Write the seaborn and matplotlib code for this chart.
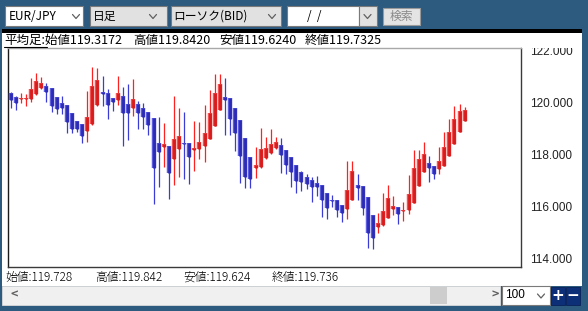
import numpy as np
import pandas as pd
import matplotlib
matplotlib.use("Agg")
import matplotlib.pyplot as plt
from matplotlib.patches import Rectangle
from matplotlib.lines import Line2D
from matplotlib.ticker import FormatStrFormatter
import seaborn as sns

# ---------------- data (Heikin-Ashi candles, EUR/JPY daily) ----------------
opens = [120.37, 120.24, 120.14, 120.14, 120.15, 120.33, 120.59, 120.67, 120.57, 120.24,
         120.01, 119.92, 119.63, 119.32, 119.18, 118.93, 119.19, 119.92, 120.42, 120.40,
         120.18, 120.12, 120.27, 119.96, 119.80, 119.95, 119.80, 119.64, 119.41, 118.45,
         118.30, 118.35, 117.83, 118.23, 118.47, 118.45, 118.18, 118.22, 118.35, 118.60,
         119.12, 119.73, 120.22, 120.18, 119.80, 119.35, 118.64, 117.91, 117.49, 117.55,
         117.87, 118.07, 118.26, 118.38, 118.19, 117.91, 117.61, 117.33, 117.14, 117.04,
         116.91, 116.85, 116.55, 116.27, 116.27, 116.08, 115.91, 116.27, 116.85, 116.81,
         116.40, 115.69, 115.24, 115.31, 115.59, 115.94, 115.99, 115.86, 115.88, 116.17,
         116.82, 117.33, 117.68, 117.59, 117.45, 117.59, 117.96, 118.42, 118.90, 119.32]
highs = [120.43, 120.27, 120.40, 120.35, 120.95, 121.14, 120.99, 120.76, 120.57, 120.24,
         120.27, 119.92, 119.63, 119.32, 119.18, 120.46, 121.37, 121.33, 121.05, 120.53,
         120.20, 121.04, 120.63, 120.73, 120.92, 120.08, 119.99, 119.64, 119.41, 119.47,
         119.22, 118.35, 120.28, 119.82, 119.67, 118.45, 119.31, 119.28, 119.91, 120.50,
         121.12, 121.12, 120.95, 120.18, 119.80, 119.35, 118.64, 117.91, 118.30, 119.03,
         118.68, 118.99, 118.70, 118.64, 118.19, 117.91, 117.61, 117.40, 117.27, 117.14,
         117.20, 116.85, 116.55, 116.46, 116.27, 116.08, 117.77, 117.77, 117.27, 116.81,
         116.40, 115.69, 115.76, 116.53, 116.85, 116.42, 115.99, 116.20, 117.23, 118.19,
         118.19, 118.51, 117.96, 117.59, 118.32, 118.90, 119.37, 119.88, 119.96, 119.84]
lows = [119.82, 119.73, 119.99, 119.90, 120.03, 120.31, 120.53, 120.05, 119.64, 119.58,
        119.58, 118.83, 118.83, 118.87, 118.45, 118.51, 119.15, 119.90, 119.88, 119.37,
        119.70, 119.92, 118.36, 118.58, 119.51, 118.99, 118.99, 118.77, 116.10, 116.78,
        117.55, 116.30, 116.85, 117.17, 117.07, 116.88, 117.40, 117.83, 117.72, 118.60,
        119.12, 119.73, 118.77, 118.77, 118.17, 116.93, 116.72, 116.72, 117.10, 117.49,
        117.83, 118.04, 118.23, 117.30, 117.27, 116.78, 116.55, 116.63, 116.68, 116.20,
        116.42, 115.63, 115.54, 116.01, 115.60, 115.43, 115.54, 116.27, 116.27, 115.69,
        114.41, 114.38, 115.01, 115.27, 115.57, 115.69, 115.33, 115.47, 115.73, 116.17,
        116.82, 117.33, 116.97, 117.07, 117.27, 117.59, 117.96, 118.42, 118.90, 119.32]
closes = [120.12, 120.01, 120.18, 120.18, 120.53, 120.85, 120.76, 120.41, 119.90, 119.76,
          119.82, 119.28, 118.99, 119.00, 118.74, 119.47, 120.65, 120.88, 120.35, 119.92,
          120.03, 120.40, 119.63, 119.63, 120.14, 119.60, 119.47, 119.15, 117.51, 118.10,
          118.41, 117.32, 118.60, 118.73, 118.41, 117.91, 118.26, 118.49, 118.83, 119.63,
          120.37, 120.72, 120.12, 119.37, 118.86, 117.96, 117.17, 117.07, 117.62, 118.22,
          118.26, 118.42, 118.51, 118.00, 117.61, 117.33, 117.01, 116.97, 116.88, 116.78,
          116.78, 116.27, 115.95, 116.24, 115.88, 115.76, 116.65, 117.38, 116.74, 115.95,
          114.99, 114.80, 115.37, 115.86, 116.33, 116.04, 115.73, 115.88, 116.49, 117.49,
          117.85, 118.03, 117.51, 117.27, 117.77, 118.32, 118.90, 119.37, 119.69, 119.73]
price_ticks = [114, 116, 118, 120, 122]

header_items = ["平均足:始値119.3172", "高値119.8420", "安値119.6240", "終値119.7325"]
footer_items = ["始値:119.728", "高値:119.842", "安値:119.624", "終値:119.736"]
toolbar_items = ["EUR/JPY", "日足", "ローソク(BID)", "/  /", "検索"]
bars_shown = "100"

# ---------------- long-format tables ----------------
n = len(opens)
idx = np.arange(n)
direction = ["up" if c >= o else "down" for o, c in zip(opens, closes)]
wick_df = pd.DataFrame({
    "idx": np.concatenate([idx, idx]),
    "price": np.concatenate([lows, highs]),
    "dir": direction + direction,
})
body_df = pd.DataFrame({
    "idx": np.concatenate([idx, idx]),
    "price": np.concatenate([opens, closes]),
    "dir": direction + direction,
})

# ---------------- figure ----------------
W, H = 588, 311
sns.set_style("white")
plt.rcParams["font.family"] = ["Noto Sans CJK JP", "DejaVu Sans"]
fig = plt.figure(figsize=(W / 100, H / 100), dpi=100)
fig.patch.set_facecolor("#2d5a7f")


def fx(x):
    return x / W


def fy(y):
    return 1 - y / H


def rect(x0, y0, x1, y1, fc, ec="none", lw=0, z=1):
    fig.add_artist(Rectangle((fx(x0), fy(y1)), fx(x1) - fx(x0), fy(y0) - fy(y1),
                             transform=fig.transFigure, facecolor=fc, edgecolor=ec,
                             linewidth=lw, zorder=z))


def text(x, y, s, size=9, color="black", ha="left", z=6, **kw):
    fig.text(fx(x), fy(y), s, fontsize=size, color=color, ha=ha, va="center",
             zorder=z, **kw)


def chevron(x, y, color="#606060"):
    fig.add_artist(Line2D([fx(x - 3.5), fx(x), fx(x + 3.5)], [fy(y - 2), fy(y + 2), fy(y - 2)],
                          transform=fig.transFigure, color=color, lw=0.9, zorder=6))


def hline(x0, x1, y, color, lw=1, z=6):
    fig.add_artist(Line2D([fx(x0), fx(x1)], [fy(y), fy(y)], transform=fig.transFigure,
                          color=color, lw=lw, zorder=z))


# white panel and black separator
rect(2, 29, 582, 286, "white", z=0.5)
rect(2, 29.3, 582, 32.5, "black", z=0.6)

# toolbar
rect(4.5, 6, 83.5, 26, "white", ec="#7a7a7a", lw=0.8)
rect(89.5, 6, 166.5, 26, "#e1e1e1", ec="#7a7a7a", lw=0.8)
rect(170.5, 6, 280.5, 26, "#e1e1e1", ec="#7a7a7a", lw=0.8)
rect(286.5, 6, 359, 26, "white", ec="#7a7a7a", lw=0.8)
rect(359, 6, 376.5, 26, "#e1e1e1", ec="#7a7a7a", lw=0.8)
rect(382.5, 8.5, 419.5, 24.5, "#e4e4e4", ec="#9a9a9a", lw=0.8)
text(9, 16.5, toolbar_items[0], size=8.5)
text(93, 16.5, toolbar_items[1], size=8.5)
text(173, 16.5, toolbar_items[2], size=8.5)
text(307, 16.5, toolbar_items[3], size=8.5)
text(401, 16.5, toolbar_items[4], size=8.5, color="#8a8a8a", ha="center")
for cx in (76, 153, 272, 367.5):
    chevron(cx, 16.5)

# header line
hx = [4, 133, 219, 305]
for x, s in zip(hx, header_items):
    text(x, 40.5, s, size=9)
hline(4, 47, 47.3, "black", lw=0.8)

# footer line
for x, s in zip([5, 95, 183, 272], footer_items):
    text(x, 277.5, s, size=8.5, fontweight="light")

# scrollbar row
rect(2, 286, 500, 305, "#f0f0f0", ec="#dadada", lw=0.6)
rect(430, 287, 447, 303.5, "#cdcdcd")
text(10, 295.5, "<", size=9, color="#606060", fontweight="bold")
text(491, 295.5, ">", size=9, color="#606060", fontweight="bold")
rect(502, 286, 550, 305, "white", ec="#7a7a7a", lw=0.8)
text(505, 295.5, bars_shown, size=8.5, family=["Liberation Sans"])
chevron(541, 296)
rect(551, 286.5, 565, 304.5, "#0d2f78", ec="#0a2258", lw=0.6)
rect(566, 286.5, 580, 304.5, "#0d2f78", ec="#0a2258", lw=0.6)
text(558, 295.5, "+", size=11, color="white", ha="center", fontweight="bold",
     family=["DejaVu Sans"])
text(573, 295.5, "−", size=11, color="white", ha="center", fontweight="bold",
     family=["DejaVu Sans"])

# ---------------- chart axes ----------------
left, right, top, bottom = 7.5, 520.7, 48, 267
ax = fig.add_axes([fx(left), fy(bottom), fx(right) - fx(left), fy(top) - fy(bottom)])
ax.set_zorder(2)
ax.set_facecolor("white")

wick_pal = {"up": "#ff2020", "down": "#3b3bd6"}
edge_pal = {"up": "#f25252", "down": "#5c5ce0"}
core_pal = {"up": "#d61c1c", "down": "#2b2bb5"}

sns.lineplot(data=wick_df, x="idx", y="price", hue="dir", units="idx", estimator=None,
             palette=wick_pal, linewidth=0.9, legend=False, ax=ax,
             solid_capstyle="butt", zorder=2)
sns.lineplot(data=body_df, x="idx", y="price", hue="dir", units="idx", estimator=None,
             palette=edge_pal, linewidth=3.2, legend=False, ax=ax,
             solid_capstyle="butt", zorder=3)
sns.lineplot(data=body_df, x="idx", y="price", hue="dir", units="idx", estimator=None,
             palette=core_pal, linewidth=2.0, legend=False, ax=ax,
             solid_capstyle="butt", zorder=4)

ax.set_xlim(-0.63, 100)
ax.set_ylim(113.69, 122.115)
ax.set_xticks([])
ax.set_xlabel("")
ax.set_ylabel("")
ax.yaxis.tick_right()
ax.set_yticks(price_ticks)
ax.yaxis.set_major_formatter(FormatStrFormatter("%.3f"))
ax.tick_params(axis="y", length=0, pad=7, labelsize=8.5, labelcolor="#222222")
for lab in ax.get_yticklabels():
    lab.set_family(["Liberation Sans"])
for side, col in (("left", "#1a1a1a"), ("top", "#a8a8a8"), ("right", "#3a3a3a"), ("bottom", "#3a3a3a")):
    ax.spines[side].set_visible(True)
    ax.spines[side].set_color(col)
    ax.spines[side].set_linewidth(1.0)

# clip top of the 122.000 label like the reference
rect(521.5, 33, 582, 48.3, "white", z=5)

fig.savefig("out.png", dpi=100, facecolor=fig.get_facecolor())
